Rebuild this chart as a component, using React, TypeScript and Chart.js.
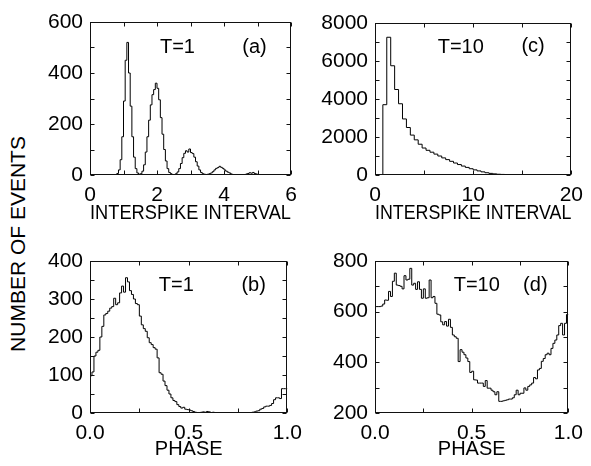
import React, { useEffect, useRef } from 'react';
import { Chart, registerables } from 'chart.js';
Chart.register(...registerables);

const FONT = "'Liberation Sans', Arial, Helvetica, sans-serif";

// (a) interspike interval histogram, T = 1
const isiT1Start = 0;
const isiT1BinWidth = 0.05;
const isiT1Counts = [
  0, 0, 0, 0, 0, 0, 0, 0, 0, 0, 0, 0, 0, 0, 0,
  2, 6, 20, 60, 150, 290, 450, 520, 400, 270, 150, 70, 25, 8, 3,
  5, 15, 40, 90, 150, 215, 275, 315, 335, 360, 340, 295, 225, 160, 100,
  55, 25, 10, 5, 2, 2, 5, 12, 25, 45, 68, 85, 95, 90, 102,
  88, 84, 70, 52, 35, 20, 10, 5, 3, 2, 3, 5, 8, 13, 20,
  26, 29, 34, 30, 26, 20, 15, 11, 8, 4, 2, 1, 1, 0, 1,
  0, 1, 2, 4, 6, 9, 7, 10, 6, 4, 2, 1,
  0, 0, 0, 0, 0, 0, 0, 0, 0, 0, 0, 0, 0, 0, 0, 0, 0, 0,
];

// (c) interspike interval histogram, T = 10
const isiT10Start = 0;
const isiT10BinWidth = 0.4;
const isiT10Counts = [
  0, 0, 3700, 7250, 5750, 4500, 3750, 2950, 2500, 2100,
  1850, 1620, 1420, 1300, 1200, 1100, 1000, 900, 810, 720,
  630, 550, 470, 400, 330, 270, 215, 165, 120, 85,
  60, 40, 30, 20, 15, 10, 8, 5, 8, 5,
  2, 0, 0, 0, 0, 0, 0, 0, 0, 0,
];

// (b) phase histogram, T = 1
const phaseT1Start = 0;
const phaseT1BinWidth = 0.01;
const phaseT1Counts = [
  98, 108, 150, 160, 165, 200, 228, 258, 262, 268,
  276, 280, 302, 285, 290, 316, 334, 318, 356, 345,
  322, 312, 300, 288, 285, 255, 232, 222, 215, 198,
  185, 180, 172, 168, 145, 106, 102, 84, 72, 60,
  50, 40, 33, 30, 22, 17, 13, 15, 10, 9,
  8, 6, 4, 2, 1, 0, 2, 3, 2, 4,
  3, 1, 2, 0, 0, 0, 0, 0, 0, 0,
  0, 0, 0, 0, 0, 0, 0, 0, 0, 0,
  0, 1, 2, 3, 5, 6, 10, 12, 16, 18,
  18, 20, 25, 35, 40, 40, 38, 64, 64, 64,
];

// (d) phase histogram, T = 10
const phaseT10Start = 0;
const phaseT10BinWidth = 0.01;
const phaseT10Counts = [
  620, 620, 620, 622, 630, 646, 645, 680, 660, 720,
  752, 705, 703, 700, 690, 742, 725, 728, 771, 705,
  712, 688, 718, 688, 653, 690, 653, 655, 725, 655,
  660, 633, 590, 587, 560, 548, 561, 543, 570, 538,
  508, 501, 495, 403, 450, 440, 430, 417, 403, 360,
  365, 331, 330, 318, 318, 318, 305, 328, 298, 298,
  290, 284, 272, 284, 246, 246, 248, 250, 252, 255,
  255, 260, 272, 290, 272, 278, 278, 299, 290, 305,
  311, 318, 340, 335, 370, 376, 404, 415, 430, 436,
  430, 455, 475, 488, 508, 545, 554, 508, 554, 589,
];

const yAxisTitle = 'NUMBER OF EVENTS';
const isiTitle = 'INTERSPIKE INTERVAL';
const phaseTitle = 'PHASE';

function stepPoints(start: number, width: number, counts: number[]) {
  const pts = counts.map((c, i) => ({ x: start + i * width, y: c }));
  pts.push({ x: start + counts.length * width, y: counts[counts.length - 1] });
  return pts;
}

const framePlugin = {
  id: 'frame',
  afterDatasetsDraw(chart: any, _args: any, opts: any) {
    const { ctx, chartArea: a } = chart;
    const xs = chart.scales.x;
    const ys = chart.scales.y;
    const L = Math.round(a.left) + 0.5;
    const R = Math.round(a.right) - 0.5;
    const T = Math.round(a.top) + 0.5;
    const B = Math.round(a.bottom) - 0.5;
    const len = 4;
    ctx.save();
    ctx.strokeStyle = '#111';
    ctx.lineWidth = 1;
    ctx.strokeRect(L, T, R - L, B - T);
    ctx.beginPath();
    xs.ticks.forEach((t: any) => {
      const px = Math.round(xs.getPixelForValue(t.value)) + 0.5;
      ctx.moveTo(px, B); ctx.lineTo(px, B - len);
      ctx.moveTo(px, T); ctx.lineTo(px, T + len);
    });
    ys.ticks.forEach((t: any) => {
      const py = Math.round(ys.getPixelForValue(t.value)) + 0.5;
      ctx.moveTo(L, py); ctx.lineTo(L + len, py);
      ctx.moveTo(R, py); ctx.lineTo(R - len, py);
    });
    ctx.stroke();
    ctx.fillStyle = '#000';
    ctx.font = `20px ${FONT}`;
    ctx.textAlign = 'center';
    ctx.textBaseline = 'middle';
    (opts.labels || []).forEach((l: any) => {
      ctx.fillText(l.text, xs.getPixelForValue(l.x), ys.getPixelForValue(l.y));
    });
    ctx.restore();
  },
};

type Panel = {
  left: number; top: number; width: number; height: number;
  yWidth: number; xHeight: number; padTop: number; padRight: number;
  points: { x: number; y: number }[];
  xMin: number; xMax: number; xStep: number; xLabelEvery: number; xDecimals: number;
  yMin: number; yMax: number; yStep: number; yLabelEvery: number;
  xTitle: string; titlePadBottom: number; tickPadX: number;
  labels: { text: string; x: number; y: number }[];
};

const panels: Panel[] = [
  {
    left: 30, top: 0, width: 280, height: 235, yWidth: 60, xHeight: 60, padTop: 22, padRight: 19,
    points: stepPoints(isiT1Start, isiT1BinWidth, isiT1Counts),
    xMin: 0, xMax: 6, xStep: 1, xLabelEvery: 2, xDecimals: 0,
    yMin: 0, yMax: 600, yStep: 100, yLabelEvery: 200,
    xTitle: isiTitle, titlePadBottom: 10, tickPadX: 8,
    labels: [{ text: 'T=1', x: 2.61, y: 502 }, { text: '(a)', x: 4.91, y: 502 }],
  },
  {
    left: 310, top: 0, width: 281, height: 235, yWidth: 65, xHeight: 60, padTop: 23, padRight: 14,
    points: stepPoints(isiT10Start, isiT10BinWidth, isiT10Counts),
    xMin: 0, xMax: 20, xStep: 5, xLabelEvery: 10, xDecimals: 0,
    yMin: 0, yMax: 8000, yStep: 1000, yLabelEvery: 2000,
    xTitle: isiTitle, titlePadBottom: 10, tickPadX: 8,
    labels: [{ text: 'T=10', x: 8.74, y: 6720 }, { text: '(c)', x: 16.1, y: 6760 }],
  },
  {
    left: 30, top: 235, width: 280, height: 231, yWidth: 60, xHeight: 53, padTop: 26, padRight: 20,
    points: stepPoints(phaseT1Start, phaseT1BinWidth, phaseT1Counts),
    xMin: 0, xMax: 1, xStep: 0.25, xLabelEvery: 0.5, xDecimals: 1,
    yMin: 0, yMax: 400, yStep: 50, yLabelEvery: 100,
    xTitle: phaseTitle, titlePadBottom: 5, tickPadX: 8,
    labels: [{ text: 'T=1', x: 0.4375, y: 335 }, { text: '(b)', x: 0.829, y: 335 }],
  },
  {
    left: 310, top: 235, width: 281, height: 231, yWidth: 65, xHeight: 53, padTop: 26, padRight: 15,
    points: stepPoints(phaseT10Start, phaseT10BinWidth, phaseT10Counts),
    xMin: 0, xMax: 1, xStep: 0.25, xLabelEvery: 0.5, xDecimals: 1,
    yMin: 200, yMax: 800, yStep: 100, yLabelEvery: 200,
    xTitle: phaseTitle, titlePadBottom: 5, tickPadX: 8,
    labels: [{ text: 'T=10', x: 0.526, y: 702 }, { text: '(d)', x: 0.829, y: 702 }],
  },
];

const isMultiple = (v: number, m: number) => Math.abs(v / m - Math.round(v / m)) < 1e-6;

function PanelChart({ p }: { p: Panel }) {
  const ref = useRef<HTMLCanvasElement>(null);
  useEffect(() => {
    if (!ref.current) return;
    const tickFont = { family: FONT, size: 21 };
    const titleFont = { family: FONT, size: 20 };
    const chart = new Chart(ref.current, {
      type: 'line',
      data: {
        datasets: [{
          data: p.points,
          stepped: 'before',
          borderColor: '#000',
          borderWidth: 1,
          pointRadius: 0,
          fill: false,
          tension: 0,
        } as any],
      },
      options: {
        animation: false,
        responsive: false,
        maintainAspectRatio: false,
        layout: { padding: { top: p.padTop, right: p.padRight, left: 0, bottom: 0 } },
        plugins: {
          legend: { display: false },
          tooltip: { enabled: false },
          frame: { labels: p.labels },
        } as any,
        scales: {
          x: {
            type: 'linear', min: p.xMin, max: p.xMax,
            grid: { display: false, drawTicks: false },
            border: { display: false },
            ticks: {
              stepSize: p.xStep, autoSkip: false, maxRotation: 0, padding: p.tickPadX,
              color: '#000', font: tickFont,
              callback: (v: any) => (isMultiple(Number(v), p.xLabelEvery) ? Number(v).toFixed(p.xDecimals) : ''),
            },
            title: { display: true, text: p.xTitle, color: '#000', font: titleFont, padding: { top: 0, bottom: p.titlePadBottom } },
            afterFit: (s: any) => { s.height = p.xHeight; },
          },
          y: {
            type: 'linear', min: p.yMin, max: p.yMax,
            grid: { display: false, drawTicks: false },
            border: { display: false },
            ticks: {
              stepSize: p.yStep, autoSkip: false, padding: 7,
              color: '#000', font: tickFont,
              callback: (v: any) => (isMultiple(Number(v), p.yLabelEvery) ? String(v) : ''),
            },
            afterFit: (s: any) => { s.width = p.yWidth; },
          },
        },
      } as any,
      plugins: [framePlugin],
    });
    return () => chart.destroy();
  }, [p]);
  return (
    <canvas
      ref={ref}
      width={p.width}
      height={p.height}
      style={{ position: 'absolute', left: p.left, top: p.top, width: p.width, height: p.height }}
    />
  );
}

export default function App() {
  return (
    <div style={{ position: 'fixed', left: 0, top: 0, width: 591, height: 466, background: '#fff', overflow: 'hidden' }}>
      {panels.map((p, i) => <PanelChart key={i} p={p} />)}
      <div
        style={{
          position: 'absolute', left: 17, top: 244,
          transform: 'translate(-50%, -50%) rotate(-90deg)',
          whiteSpace: 'nowrap', fontFamily: FONT, fontSize: 21, color: '#000', lineHeight: 1,
        }}
      >
        {yAxisTitle}
      </div>
    </div>
  );
}
